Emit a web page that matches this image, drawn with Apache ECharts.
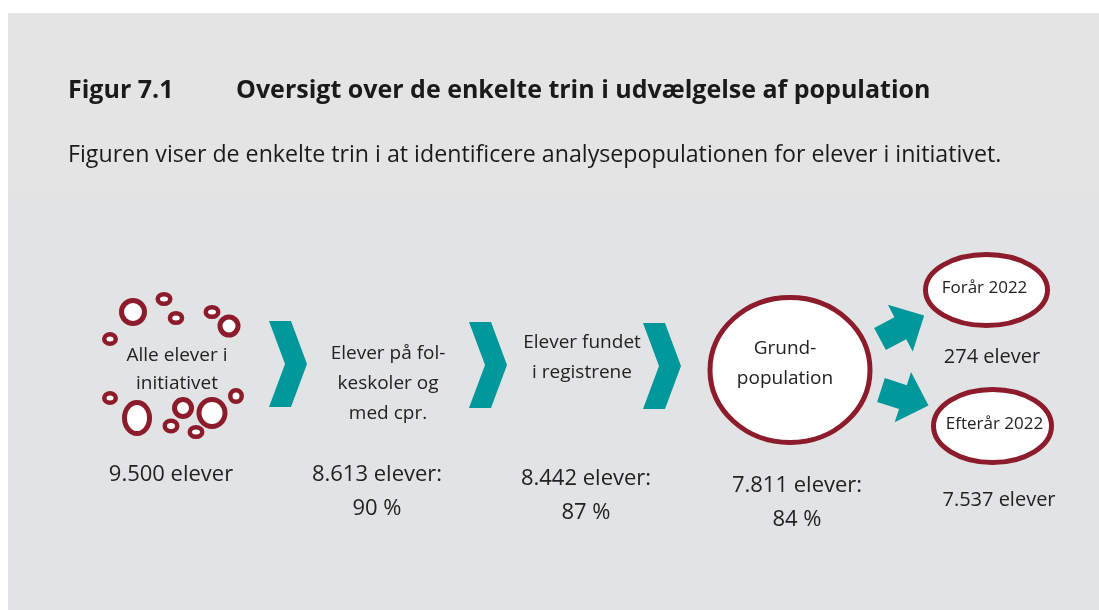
<!DOCTYPE html>
<html>
<head>
<meta charset="utf-8">
<script src="https://cdn.jsdelivr.net/npm/echarts@6/dist/echarts.min.js"></script>
<style>
    html, body { margin: 0; padding: 0; background: #fff; }
    #flowChart { width: 1099px; height: 610px; }
</style>
</head>
<body>
<!-- 流程图容器 -->
<div id="flowChart"></div>
<script>
// data
const stepLabels = ['Alle elever i\ninitiativet', 'Elever på fol-\nkeskoler og\nmed cpr.', 'Elever fundet\ni registrene', 'Grund-\npopulation']
const stepCounts = [9500, 8613, 8442, 7811]
const stepShares = [null, 90, 87, 84]
const groupLabels = ['Forår 2022', 'Efterår 2022']
const groupCounts = [274, 7537]

// layout, in a hidden 1099 x 610 frame
const stepPos = [[177, 370], [388, 384], [582, 358], [785, 364]]
const countPos = [[171, 475], [377, 492], [586, 496], [797, 503]]
const chevronPos = [[288, 364], [488, 365], [662, 366]]
const arrowPos = [[880, 339, -28], [881, 390, 18]]
const groupPos = [[986.5, 290, 63.5, 38], [992.5, 426, 61.5, 39]]
const groupCountPos = [[992, 357], [999, 500]]
const dotPos = [
    [133, 312, 14, 14], [164, 299, 8.5, 7], [176, 318, 8.3, 7], [212, 312, 8.5, 7],
    [229, 326, 11.5, 11.5], [110, 339, 8, 7], [110, 398, 8, 7], [137, 418, 15, 18],
    [171, 426, 8.5, 7.5], [183, 408, 11, 11], [196, 432, 8.5, 7], [212, 413, 15.5, 16],
    [236, 396, 8, 8]
]

const teal = '#00989b'
const wine = '#8c1c2b'
const ink = '#222222'
const font = '"Open Sans", sans-serif'

function fmt(n) {
    return String(n).replace(/\B(?=(\d{3})+(?!\d))/g, '.')
}

function initFlowChart() {
    var chartDom = document.getElementById('flowChart')
    var myChart = echarts.init(chartDom)

    // text element helper
    function label(api, x, y, text, size, lh) {
        const p = api.coord([x, y])
        return {
            type: 'text', x: p[0], y: p[1],
            style: { text: text, fill: ink, fontFamily: font, fontSize: size, lineHeight: lh, align: 'center', verticalAlign: 'middle' }
        }
    }

    // ring helper (outer radii given, stroke drawn inside)
    function ring(api, x, y, rx, ry, lw) {
        const c = api.coord([x, y])
        const e = api.coord([x + rx, y + ry])
        return {
            type: 'ellipse',
            shape: { cx: c[0], cy: c[1], rx: e[0] - c[0] - lw / 2, ry: e[1] - c[1] - lw / 2 },
            style: { fill: '#fff', stroke: wine, lineWidth: lw }
        }
    }

    var option = {
        animation: false,
        backgroundColor: '#fff',
        grid: { left: 0, right: 0, top: 0, bottom: 0 },
        xAxis: { type: 'value', min: 0, max: 1099, show: false },
        yAxis: { type: 'value', min: 0, max: 610, inverse: true, show: false },
        graphic: [
            { type: 'rect', z: -10, shape: { x: 8, y: 13, width: 1091, height: 182 }, style: { fill: '#e4e4e4' } },
            { type: 'rect', z: -10, shape: { x: 8, y: 195, width: 1091, height: 415 }, style: { fill: '#e2e3e5' } }
        ],
        title: [
            { text: 'Figur 7.1', left: 63, top: 73, textStyle: { fontFamily: font, fontSize: 25, fontWeight: 'bold', color: '#1a1a1a' } },
            { text: 'Oversigt over de enkelte trin i udvælgelse af population', left: 231, top: 73, textStyle: { fontFamily: font, fontSize: 25, fontWeight: 'bold', color: '#1a1a1a' } },
            { text: 'Figuren viser de enkelte trin i at identificere analysepopulationen for elever i initiativet.', left: 63, top: 139, textStyle: { fontFamily: font, fontSize: 23.2, fontWeight: 'normal', color: '#1a1a1a' } }
        ],
        series: [
            {
                // 装饰小圆圈
                type: 'custom', name: 'dots', data: dotPos,
                renderItem: function (params, api) {
                    const d = dotPos[params.dataIndex]
                    return ring(api, d[0], d[1], d[2], d[3], d[2] > 10 ? 5 : 4.5)
                }
            },
            {
                // chevrons between steps
                type: 'custom', name: 'chevrons', data: chevronPos,
                renderItem: function (params, api) {
                    const c = chevronPos[params.dataIndex]
                    const pts = [[-19, -43], [3, -43], [19, 0], [3, 43], [-19, 43], [-3, 0]]
                    return {
                        type: 'polygon',
                        shape: { points: pts.map(p => api.coord([c[0] + p[0], c[1] + p[1]])) },
                        style: { fill: teal }
                    }
                }
            },
            {
                // grundpopulation circle
                type: 'custom', name: 'grund', data: [stepCounts[3]],
                renderItem: function (params, api) {
                    return ring(api, 790, 370, 82.5, 75, 5)
                }
            },
            {
                // block arrows to the two groups
                type: 'custom', name: 'arrows', data: arrowPos,
                renderItem: function (params, api) {
                    const a = arrowPos[params.dataIndex]
                    const ang = a[2] * Math.PI / 180
                    const local = [[0, -12.5], [23, -12.5], [23, -26.5], [50, 0], [23, 26.5], [23, 12.5], [0, 12.5]]
                    const pts = local.map(p => api.coord([
                        a[0] + p[0] * Math.cos(ang) - p[1] * Math.sin(ang),
                        a[1] + p[0] * Math.sin(ang) + p[1] * Math.cos(ang)
                    ]))
                    return { type: 'polygon', shape: { points: pts }, style: { fill: teal } }
                }
            },
            {
                // group ellipses with names and counts
                type: 'custom', name: 'groups', data: groupCounts,
                renderItem: function (params, api) {
                    const i = params.dataIndex
                    const g = groupPos[i]
                    return {
                        type: 'group',
                        children: [
                            ring(api, g[0], g[1], g[2], g[3], 5),
                            label(api, g[0] - 2 + i * 4, g[1] - 2, groupLabels[i], 17, 20),
                            label(api, groupCountPos[i][0], groupCountPos[i][1], fmt(groupCounts[i]) + ' elever', 20, 22)
                        ]
                    }
                }
            },
            {
                // step labels and counts
                type: 'custom', name: 'steps', data: stepCounts,
                renderItem: function (params, api) {
                    const i = params.dataIndex
                    const s = stepPos[i]
                    const c = countPos[i]
                    const countText = fmt(stepCounts[i]) + ' elever' + (stepShares[i] == null ? '' : ':\n' + stepShares[i] + ' %')
                    return {
                        type: 'group',
                        children: [
                            label(api, s[0], s[1], stepLabels[i], 19, i === 0 ? 28 : 30),
                            label(api, c[0], c[1], countText, 22, 34)
                        ]
                    }
                }
            }
        ]
    }

    option && myChart.setOption(option)
}

initFlowChart()
</script>
</body>
</html>
